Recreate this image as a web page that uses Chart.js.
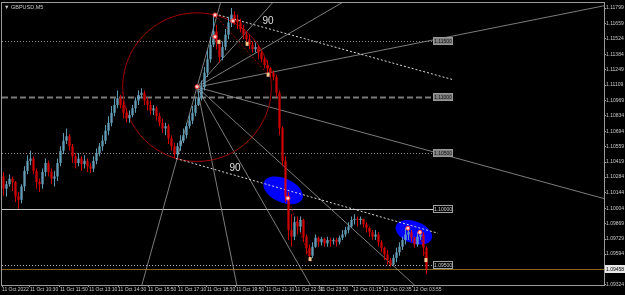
<!DOCTYPE html>
<html>
<head>
<meta charset="utf-8">
<script src="https://cdn.jsdelivr.net/npm/chart.js@4.4.0/dist/chart.umd.min.js"></script>
<style>
html, body { margin: 0; padding: 0; background: #000; }
canvas { display: block; }
</style>
</head>
<body>
<canvas id="chart" width="625" height="295"></canvas>
<script>
// GBPUSD M5 candles (one entry per bar)
var opens = [1.1029,1.1018,1.1022,1.1027,1.1024,1.1011,1.1008,1.1020,1.1034,1.1043,
  1.1045,1.1034,1.1024,1.1022,1.1033,1.1041,1.1033,1.1027,1.1029,1.1041,
  1.1052,1.1061,1.1065,1.1056,1.1047,1.1041,1.1045,1.1040,1.1043,1.1038,
  1.1036,1.1043,1.1050,1.1056,1.1061,1.1070,1.1077,1.1086,1.1093,1.1099,
  1.1093,1.1086,1.1081,1.1084,1.1090,1.1097,1.1102,1.1104,1.1097,1.1093,
  1.1088,1.1090,1.1083,1.1077,1.1072,1.1074,1.1063,1.1056,1.1049,1.1056,
  1.1061,1.1066,1.1074,1.1079,1.1086,1.1093,1.1100,1.1109,1.1122,1.1134,
  1.1147,1.1159,1.1149,1.1136,1.1145,1.1156,1.1167,1.1174,1.1170,1.1167,
  1.1161,1.1156,1.1152,1.1147,1.1143,1.1145,1.1140,1.1134,1.1129,1.1126,
  1.1122,1.1118,1.1104,1.1072,1.1043,1.1011,1.0981,1.0975,1.0988,1.0984,
  1.0990,1.0975,1.0965,1.0958,1.0966,1.0974,1.0970,1.0973,1.0969,1.0972,
  1.0971,1.0972,1.0970,1.0974,1.0977,1.0981,1.0984,1.0990,1.0991,1.0990,
  1.0991,1.0986,1.0983,1.0979,1.0975,1.0977,1.0970,1.0965,1.0959,1.0954,
  1.0950,1.0956,1.0961,1.0966,1.0972,1.0977,1.0979,1.0974,1.0968,1.0975,
  1.0977,1.0965];
var highs = [1.1033,1.1025,1.1031,1.1029,1.1025,1.1015,1.1022,1.1038,1.1048,1.1052,
  1.1047,1.1036,1.1027,1.1036,1.1045,1.1043,1.1036,1.1034,1.1045,1.1056,
  1.1068,1.1072,1.1067,1.1058,1.1050,1.1050,1.1047,1.1048,1.1045,1.1041,
  1.1047,1.1054,1.1059,1.1066,1.1075,1.1083,1.1092,1.1099,1.1106,1.1102,
  1.1097,1.1090,1.1088,1.1093,1.1100,1.1106,1.1108,1.1106,1.1100,1.1097,
  1.1093,1.1092,1.1086,1.1081,1.1077,1.1076,1.1066,1.1059,1.1059,1.1066,
  1.1072,1.1077,1.1084,1.1092,1.1099,1.1106,1.1115,1.1127,1.1142,1.1154,
  1.1174,1.1165,1.1152,1.1150,1.1161,1.1172,1.1180,1.1177,1.1174,1.1170,
  1.1165,1.1159,1.1156,1.1150,1.1149,1.1147,1.1142,1.1136,1.1133,1.1127,
  1.1124,1.1120,1.1106,1.1074,1.1047,1.1015,1.0995,1.0993,1.0993,1.0993,
  1.0991,1.0977,1.0968,1.0970,1.0977,1.0975,1.0975,1.0974,1.0975,1.0974,
  1.0974,1.0974,1.0976,1.0981,1.0984,1.0988,1.0993,1.0995,1.0993,1.0993,
  1.0991,1.0988,1.0984,1.0981,1.0981,1.0979,1.0972,1.0966,1.0963,1.0956,
  1.0959,1.0965,1.0970,1.0975,1.0983,1.0983,1.0981,1.0975,1.0979,1.0981,
  1.0979,1.0966];
var lows = [1.1012,1.1011,1.1020,1.1016,1.1006,1.1000,1.1005,1.1016,1.1031,1.1039,
  1.1031,1.1018,1.1015,1.1018,1.1029,1.1029,1.1022,1.1020,1.1025,1.1038,
  1.1049,1.1058,1.1052,1.1041,1.1036,1.1038,1.1034,1.1036,1.1033,1.1032,
  1.1033,1.1040,1.1047,1.1052,1.1058,1.1066,1.1074,1.1083,1.1090,1.1090,
  1.1081,1.1077,1.1077,1.1082,1.1086,1.1093,1.1099,1.1093,1.1088,1.1084,
  1.1084,1.1079,1.1074,1.1068,1.1066,1.1058,1.1052,1.1045,1.1046,1.1052,
  1.1059,1.1063,1.1072,1.1076,1.1083,1.1092,1.1097,1.1106,1.1118,1.1131,
  1.1145,1.1143,1.1131,1.1133,1.1142,1.1152,1.1163,1.1165,1.1161,1.1158,
  1.1152,1.1149,1.1143,1.1140,1.1140,1.1134,1.1131,1.1126,1.1122,1.1118,
  1.1115,1.1100,1.1066,1.1038,1.1006,1.0972,1.0966,1.0972,1.0977,1.0979,
  1.0970,1.0959,1.0954,1.0956,1.0965,1.0966,1.0967,1.0966,1.0966,1.0966,
  1.0968,1.0966,1.0968,1.0972,1.0975,1.0978,1.0983,1.0986,1.0984,1.0986,
  1.0983,1.0979,1.0975,1.0972,1.0972,1.0966,1.0961,1.0954,1.0950,1.0948,
  1.0949,1.0952,1.0958,1.0963,1.0968,1.0972,1.0970,1.0965,1.0966,1.0972,
  1.0958,1.0941];
var closes = [1.1018,1.1022,1.1027,1.1024,1.1011,1.1008,1.1020,1.1034,1.1043,1.1045,
  1.1034,1.1024,1.1022,1.1033,1.1041,1.1033,1.1027,1.1029,1.1041,1.1052,
  1.1061,1.1065,1.1056,1.1047,1.1041,1.1045,1.1040,1.1043,1.1038,1.1036,
  1.1043,1.1050,1.1056,1.1061,1.1070,1.1077,1.1086,1.1093,1.1099,1.1093,
  1.1086,1.1081,1.1084,1.1090,1.1097,1.1102,1.1104,1.1097,1.1093,1.1088,
  1.1090,1.1083,1.1077,1.1072,1.1074,1.1063,1.1056,1.1049,1.1056,1.1061,
  1.1066,1.1074,1.1079,1.1086,1.1093,1.1100,1.1109,1.1122,1.1134,1.1147,
  1.1159,1.1149,1.1136,1.1145,1.1156,1.1167,1.1174,1.1170,1.1167,1.1161,
  1.1156,1.1152,1.1147,1.1143,1.1145,1.1140,1.1134,1.1129,1.1126,1.1122,
  1.1118,1.1104,1.1072,1.1043,1.1011,1.0981,1.0975,1.0988,1.0984,1.0990,
  1.0975,1.0965,1.0958,1.0966,1.0974,1.0970,1.0973,1.0969,1.0972,1.0971,
  1.0972,1.0970,1.0974,1.0977,1.0981,1.0984,1.0990,1.0991,1.0990,1.0991,
  1.0986,1.0983,1.0979,1.0975,1.0977,1.0970,1.0965,1.0959,1.0954,1.0950,
  1.0956,1.0961,1.0966,1.0972,1.0977,1.0979,1.0974,1.0968,1.0975,1.0977,
  1.0965,1.0946];

var yTickLabels = ['1.11799','1.11659','1.11524','1.11384','1.11249','1.11109','1.10969','1.10834','1.10694',
  '1.10559','1.10419','1.10284','1.10144','1.10004','1.09869','1.09729','1.09594','1.09324'];
var timeLabels = ['11 Oct 2022','11 Oct 10:30','11 Oct 11:50','11 Oct 13:10','11 Oct 14:30','11 Oct 15:50',
  '11 Oct 17:10','11 Oct 18:30','11 Oct 19:50','11 Oct 21:10','11 Oct 22:30','11 Oct 23:50',
  '12 Oct 01:15','12 Oct 02:35','12 Oct 03:55'];
var timeTickBars = [-0.5, 8.8, 18.8, 28.5, 38.2, 48.2, 58.2, 67.8, 77.5, 87.5, 97.2, 105.5, 116.5, 126.5, 136.5];

var levelPrices = [1.115, 1.110, 1.105, 1.100, 1.095];
var levelLabels = ['1.11500', '1.11000', '1.10500', '1.10000', '1.09500'];
var bidPrice = 1.0946;
var bidLabel = '1.09458';
var symbolTitle = 'GBPUSD,M5';

var BULL = '#8fd0f0', BULL_WICK = '#5d9cb4', BEAR = '#ff0000', BEAR_WICK = '#d00000';
var FONT = '"Liberation Sans", "DejaVu Sans", sans-serif';

var wickData = [], bodyData = [], wickColors = [], bodyColors = [];
for (var i = 0; i < closes.length; i++) {
    var up = closes[i] >= opens[i];
    wickData.push({ x: i, y: [lows[i], highs[i]] });
    bodyData.push({ x: i, y: [opens[i], closes[i]] });
    wickColors.push(up ? BULL_WICK : BEAR_WICK);
    bodyColors.push(up ? BULL : BEAR);
}

var drawings = {
    id: 'drawings',
    beforeDatasetsDraw: function (chart) {
        var ctx = chart.ctx, xs = chart.scales.x, ys = chart.scales.y, a = chart.chartArea;
        function px(v) { return xs.getPixelForValue(v); }
        function py(v) { return ys.getPixelForValue(v); }
        ctx.save();
        ctx.beginPath();
        ctx.rect(a.left, a.top, a.right - a.left, a.bottom - a.top);
        ctx.clip();

        // blue ellipses
        ctx.fillStyle = '#0000ff';
        [[93.2, 1.10165, 21, 12, 0.42], [136.8, 1.0979, 19, 11, 0.35]].forEach(function (e) {
            ctx.beginPath();
            ctx.ellipse(px(e[0]), py(e[1]), e[2], e[3], e[4], 0, Math.PI * 2);
            ctx.fill();
        });

        // horizontal levels
        var endX = px(143.2);
        var styles = [
            { dash: [1, 2], color: '#8a8a8a', w: 1 },
            { dash: [6, 3], color: '#7a7a7a', w: 2 },
            { dash: [1, 2], color: '#8a8a8a', w: 1 },
            { dash: [], color: '#c8c8c8', w: 1 },
            { dash: [1, 2], color: '#b0b0b0', w: 1 }
        ];
        levelPrices.forEach(function (p, k) {
            var y = Math.round(py(p)) + 0.5;
            ctx.beginPath();
            ctx.setLineDash(styles[k].dash);
            ctx.strokeStyle = styles[k].color;
            ctx.lineWidth = styles[k].w;
            ctx.moveTo(a.left, y);
            ctx.lineTo(endX, y);
            ctx.stroke();
        });
        ctx.setLineDash([]);

        // bid line
        var by = Math.round(py(bidPrice)) + 0.5;
        ctx.strokeStyle = '#8b6914';
        ctx.lineWidth = 1;
        ctx.beginPath();
        ctx.moveTo(a.left, by);
        ctx.lineTo(a.right, by);
        ctx.stroke();

        // fan of lines from one pivot
        var o = [64.5, 1.1109];
        var rays = [[199.8, 1.11817], [199.8, 1.10094], [113.8, 1.11862], [90.2, 1.11862], [72.5, 1.11862],
            [46.5, 1.09353], [77.5, 1.09353], [101.5, 1.09353], [135.5, 1.09353]];
        ctx.strokeStyle = '#9c9c9c';
        ctx.lineWidth = 0.8;
        var ox = px(o[0]), oy = py(o[1]);
        rays.forEach(function (r) {
            var tx = px(r[0]), ty = py(r[1]);
            ctx.beginPath();
            ctx.moveTo(ox, oy);
            ctx.lineTo(ox + (tx - ox) * 3, oy + (ty - oy) * 3);
            ctx.stroke();
        });

        // dark red circle
        var rx = px(57.5) - ox, ry = py(1.10451) - oy;
        ctx.strokeStyle = '#a00000';
        ctx.lineWidth = 1;
        ctx.beginPath();
        ctx.arc(ox, oy, Math.sqrt(rx * rx + ry * ry), 0, Math.PI * 2);
        ctx.stroke();

        // dark red dotted anchor lines
        ctx.setLineDash([2, 2]);
        [[70.5, 1.11737, 88.2, 1.11201], [94.8, 1.10094, 102.2, 1.09549], [138.8, 1.0979, 140.8, 1.0954]].forEach(function (t) {
            ctx.beginPath();
            ctx.moveTo(px(t[0]), py(t[1]));
            ctx.lineTo(px(t[2]), py(t[3]));
            ctx.stroke();
        });

        // dotted trend lines
        ctx.strokeStyle = '#d8d8d8';
        [[70.5, 1.11746, 149.8, 1.11157], [57.5, 1.10451, 144.8, 1.09781]].forEach(function (t) {
            ctx.beginPath();
            ctx.moveTo(px(t[0]), py(t[1]));
            ctx.lineTo(px(t[2]), py(t[3]));
            ctx.stroke();
        });
        ctx.setLineDash([]);
        ctx.restore();
    },
    afterDatasetsDraw: function (chart) {
        var ctx = chart.ctx, xs = chart.scales.x, ys = chart.scales.y, a = chart.chartArea;
        function px(v) { return xs.getPixelForValue(v); }
        function py(v) { return ys.getPixelForValue(v); }
        ctx.save();

        // anchor markers
        [[70.5, 1.11737], [70.5, 1.11541], [76.5, 1.11683], [64.5, 1.11094], [94.8, 1.10094],
            [134.8, 1.09826], [138.8, 1.0979]].forEach(function (m) {
            ctx.beginPath();
            ctx.arc(px(m[0]), py(m[1]), 2, 0, Math.PI * 2);
            ctx.fillStyle = '#ffd0d0';
            ctx.fill();
            ctx.strokeStyle = '#ff3030';
            ctx.lineWidth = 1;
            ctx.stroke();
        });
        ctx.fillStyle = '#f8c890';
        [[71.8, 1.11496], [81.2, 1.11478], [88.2, 1.11201], [102.2, 1.09549], [140.8, 1.0954]].forEach(function (m) {
            ctx.fillRect(px(m[0]) - 1.5, py(m[1]) - 2, 3, 4);
        });

        // angle labels
        ctx.fillStyle = '#e0e0e0';
        ctx.font = '10px "Liberation Sans", sans-serif';
        ctx.textAlign = 'center';
        ctx.textBaseline = 'middle';
        ctx.fillText('90', px(88.2), py(1.11683));
        ctx.fillText('90', px(77.2), py(1.10362));

        // level price tags
        ctx.font = '5px ' + FONT;
        var bx = Math.round(px(143.2));
        levelPrices.forEach(function (p, k) {
            var y = Math.round(py(p));
            var dark = k >= 3;
            ctx.fillStyle = dark ? '#000' : '#808080';
            ctx.fillRect(bx, y - 4, 20, 8);
            ctx.strokeStyle = dark ? '#a0a0a0' : '#9a9a9a';
            ctx.strokeRect(bx + 0.5, y - 3.5, 19, 7);
            ctx.fillStyle = dark ? '#d0d0d0' : '#111';
            ctx.fillText(levelLabels[k], bx + 10, y + 0.5);
        });
        ctx.restore();
    },
    afterDraw: function (chart) {
        var ctx = chart.ctx, ys = chart.scales.y, a = chart.chartArea;
        ctx.save();
        // frame
        ctx.strokeStyle = '#9a9a9a';
        ctx.lineWidth = 1;
        ctx.strokeRect(a.left - 0.5, a.top - 0.5, a.right - a.left + 1, a.bottom - a.top + 1);
        // bid tag on the price axis
        var by = Math.round(ys.getPixelForValue(bidPrice));
        ctx.fillStyle = '#e8e8e8';
        ctx.fillRect(a.right + 1, by - 4, 20, 8);
        ctx.fillStyle = '#000';
        ctx.font = '5px ' + FONT;
        ctx.textAlign = 'left';
        ctx.textBaseline = 'middle';
        ctx.fillText(bidLabel, a.right + 2, by + 0.5);
        // symbol title
        ctx.fillStyle = '#c8c8c8';
        ctx.font = '5.5px ' + FONT;
        ctx.fillText('\u25BC ' + symbolTitle, a.left + 2, a.top + 4);
        ctx.restore();
    }
};

var ctx = document.getElementById('chart').getContext('2d');
var myChart = new Chart(ctx, {
    type: 'bar',
    data: {
        datasets: [{
            data: wickData,
            backgroundColor: wickColors,
            barThickness: 1,
            grouped: false,
            inflateAmount: 0,
            borderWidth: 0
        }, {
            data: bodyData,
            backgroundColor: bodyColors,
            barThickness: 2,
            grouped: false,
            inflateAmount: 0,
            borderWidth: 0,
            minBarLength: 1
        }]
    },
    options: {
        responsive: false,
        animation: false,
        layout: { padding: { left: 2, top: 2, right: 0, bottom: 0 } },
        plugins: { legend: { display: false }, tooltip: { enabled: false } },
        scales: {
            x: {
                type: 'linear',
                offset: false,
                min: -0.5,
                max: 200.17,
                afterBuildTicks: function (scale) {
                    scale.ticks = timeTickBars.map(function (v) { return { value: v }; });
                },
                afterFit: function (scale) { scale.height = 10; },
                grid: { drawOnChartArea: false, offset: false, color: '#9a9a9a', tickLength: 2 },
                border: { color: '#9a9a9a' },
                ticks: {
                    autoSkip: false,
                    maxRotation: 0,
                    align: 'start',
                    padding: 0,
                    color: '#c8c8c8',
                    font: { size: 5, family: FONT },
                    callback: function (v, idx) { return timeLabels[idx]; }
                }
            },
            y: {
                position: 'right',
                min: 1.09317,
                max: 1.11844,
                afterBuildTicks: function (scale) {
                    scale.ticks = yTickLabels.map(function (s) { return { value: parseFloat(s) }; });
                },
                afterFit: function (scale) { scale.width = 21; },
                grid: { drawOnChartArea: false, color: '#9a9a9a', tickLength: 2 },
                border: { color: '#9a9a9a' },
                ticks: {
                    padding: 0,
                    color: '#c8c8c8',
                    font: { size: 5, family: FONT },
                    callback: function (v, idx) { return yTickLabels[idx]; }
                }
            }
        }
    },
    plugins: [drawings]
});
</script>
</body>
</html>
